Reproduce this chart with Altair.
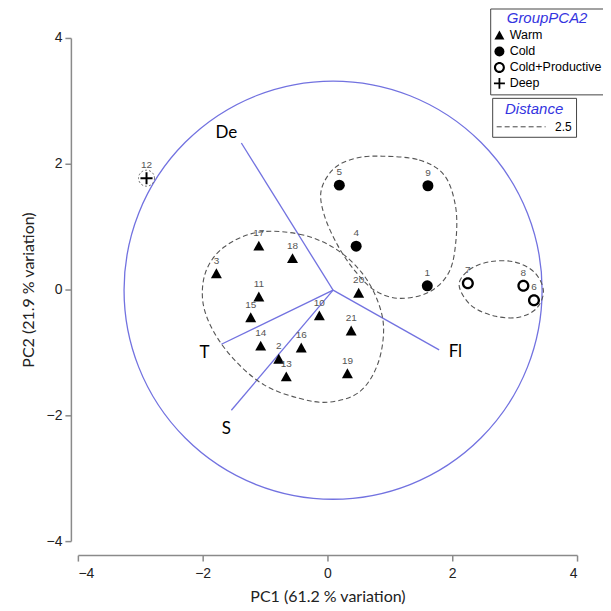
import altair as alt
import pandas as pd

# ---- sample scores (PC1, PC2) ----
samples = ["17", "18", "3", "11", "15", "14", "2", "13", "16", "10", "21", "19", "20",
           "5", "9", "4", "1", "7", "8", "6", "12"]
pc1 = [-1.10, -0.56, -1.78, -1.10, -1.23, -1.07, -0.78, -0.66, -0.42, -0.13, 0.38, 0.32, 0.50,
       0.19, 1.61, 0.46, 1.60, 2.25, 3.14, 3.31, -2.90]
pc2 = [0.69, 0.49, 0.25, -0.12, -0.45, -0.90, -1.11, -1.39, -0.93, -0.42, -0.66, -1.34, -0.06,
       1.66, 1.65, 0.69, 0.06, 0.10, 0.06, -0.17, 1.77]
groups = ["Warm"] * 13 + ["Cold"] * 4 + ["Cold+Productive"] * 3 + ["Deep"]
group_order = ["Warm", "Cold", "Cold+Productive", "Deep"]

# ---- vectors (variables) ----
vec_names = ["De", "T", "S", "Fl"]
vec_x0 = [0.09, 0.09, 0.09, 0.09]
vec_y0 = [-0.01, -0.01, -0.01, -0.01]
vec_x1 = [-1.38, -1.70, -1.54, 1.79]
vec_y1 = [2.33, -0.87, -1.92, -0.96]
vec_lab_x = [-1.62, -1.97, -1.62, 2.05]
vec_lab_y = [2.49, -1.01, -2.21, -0.99]

# ---- correlation circle ----
circle_cx = [0.09]
circle_cy = [-0.01]
circle_r = 3.35

# ---- cluster outlines at distance 2.5 (traced) ----
warm_x = [-1.12, -0.45, 0.11, 0.54, 0.80, 0.90, 0.80, 0.51, 0.03, -0.45, -1.01, -1.49, -1.84, -2.00, -1.94, -1.65]
warm_y = [0.91, 0.88, 0.66, 0.28, -0.17, -0.64, -1.20, -1.63, -1.79, -1.73, -1.52, -1.12, -0.64, -0.17, 0.31, 0.68]
cold_x = [0.88, 1.47, 1.87, 2.05, 2.06, 1.95, 1.63, 1.15, 0.75, 0.43, 0.16, -0.05, -0.10, 0.11, 0.46]
cold_y = [2.12, 2.06, 1.82, 1.34, 0.79, 0.28, -0.04, -0.14, -0.01, 0.31, 0.71, 1.18, 1.58, 1.93, 2.09]
prod_x = [2.11, 2.27, 2.59, 2.99, 3.31, 3.46, 3.36, 3.07, 2.67, 2.30]
prod_y = [0.07, 0.31, 0.44, 0.44, 0.28, -0.01, -0.29, -0.44, -0.42, -0.25]

W, H = 500, 504
BLUE = "#7272e0"

pts = pd.DataFrame({"id": samples, "pc1": pc1, "pc2": pc2, "group": groups})
vec = pd.DataFrame({"name": vec_names, "x0": vec_x0, "y0": vec_y0, "x1": vec_x1, "y1": vec_y1,
                    "lx": vec_lab_x, "ly": vec_lab_y})
circ = pd.DataFrame({"cx": circle_cx, "cy": circle_cy})

rows = []
for name, xs_, ys_ in [("warm", warm_x, warm_y), ("cold", cold_x, cold_y), ("prod", prod_x, prod_y)]:
    for i, (a, b) in enumerate(zip(xs_, ys_)):
        rows.append({"cluster": name, "i": i, "x": a, "y": b, "dist": "2.5"})
outl = pd.DataFrame(rows)

xs = alt.Scale(domain=[-4, 4], nice=False, zero=False)
ys = alt.Scale(domain=[-4, 4], nice=False, zero=False)
xax = alt.Axis(title="PC1 (61.2 % variation)", values=[-4, -2, 0, 2, 4], format="d", grid=False,
               offset=14, labelPadding=5, titlePadding=8)
yax = alt.Axis(title="PC2 (21.9 % variation)", values=[-4, -2, 0, 2, 4], format="d", grid=False,
               offset=7, labelPadding=3, titlePadding=9)

base = alt.Chart(pts)

px_per_unit = W / 8
circle_size = (2 * circle_r * px_per_unit) ** 2
circle_layer = alt.Chart(circ).mark_point(
    shape="circle", filled=False, color=BLUE, strokeWidth=1.3, size=circle_size, opacity=1
).encode(x=alt.X("cx:Q", scale=xs, axis=xax), y=alt.Y("cy:Q", scale=ys, axis=yax))

vec_layer = alt.Chart(vec).mark_rule(color=BLUE, strokeWidth=1.3).encode(
    x=alt.X("x0:Q", scale=xs), y=alt.Y("y0:Q", scale=ys), x2="x1:Q", y2="y1:Q")

vec_text = alt.Chart(vec).mark_text(font="Lato", fontSize=17, color="black").encode(
    x=alt.X("lx:Q", scale=xs), y=alt.Y("ly:Q", scale=ys), text="name:N")

outline_layer = alt.Chart(outl).mark_line(
    interpolate="cardinal-closed", color="#555555", strokeWidth=1.1
).encode(
    x=alt.X("x:Q", scale=xs), y=alt.Y("y:Q", scale=ys),
    detail="cluster:N", order=alt.Order("i:Q"),
    strokeDash=alt.StrokeDash(
        "dist:N", scale=alt.Scale(domain=["2.5"], range=[[5, 3]]),
        legend=alt.Legend(title="Distance", orient="none", legendX=415, legendY=60,
                          symbolType="M-4,0L4,0", symbolSize=150, symbolOffset=18,
                          labelOffset=27, symbolStrokeColor="#444444", symbolStrokeWidth=1)
    ))

deep_ring = base.transform_filter(alt.datum.group == "Deep").mark_point(
    shape="circle", filled=False, color="#666666", strokeDash=[2, 2], strokeWidth=1, size=256, opacity=1
).encode(x=alt.X("pc1:Q", scale=xs), y=alt.Y("pc2:Q", scale=ys))

ring = "M-1.1,0A1.1,1.1,0,1,1,1.1,0A1.1,1.1,0,1,1,-1.1,0ZM-0.68,0A0.68,0.68,0,1,0,0.68,0A0.68,0.68,0,1,0,-0.68,0Z"
plus = "M-1.1,-0.18L1.1,-0.18L1.1,0.18L-1.1,0.18ZM-0.18,-1.1L0.18,-1.1L0.18,1.1L-0.18,1.1Z"
tri = "M0,-1L1,0.8L-1,0.8Z"

point_layer = base.mark_point(filled=True, color="black", opacity=1, size=121).encode(
    x=alt.X("pc1:Q", scale=xs), y=alt.Y("pc2:Q", scale=ys),
    shape=alt.Shape("group:N",
                    scale=alt.Scale(domain=group_order, range=[tri, "circle", ring, plus]),
                    legend=alt.Legend(title="GroupPCA2", orient="none", legendX=413, legendY=-29.5,
                                      symbolSize=100, rowPadding=0, clipHeight=16, padding=3,
                                      titlePadding=1, labelFontSize=12.5)))

label_layer = base.mark_text(dy=-13, fontSize=10, color="#555555", font="Liberation Sans").encode(
    x=alt.X("pc1:Q", scale=xs), y=alt.Y("pc2:Q", scale=ys), text="id:N")

chart = alt.layer(
    circle_layer, vec_layer, outline_layer, deep_ring, point_layer, label_layer, vec_text
).properties(
    width=W, height=H,
    autosize=alt.AutoSizeParams(type="none"),
    padding={"left": 70, "top": 29.5, "right": 26, "bottom": 68},
).configure_view(stroke=None).configure_axis(
    domainColor="#8a8a8a", domainWidth=1.5, tickColor="#8a8a8a", tickWidth=1.5, tickSize=6,
    labelFont="Liberation Sans", labelFontSize=14, labelColor="#222222",
    titleFont="Lato", titleFontSize=16, titleFontWeight="normal", titleColor="#222222",
).configure_legend(
    padding=4, strokeColor="#444444", fillColor="white", cornerRadius=0,
    titleFont="Liberation Sans", titleFontSize=15, titleFontStyle="italic", titleFontWeight="normal",
    titleColor="#3434e0", titleAnchor="middle", titlePadding=3,
    labelFont="Liberation Sans", labelFontSize=12, labelColor="black", labelOffset=4,
)

chart.save("out.html", embed_options={"renderer": "svg", "actions": False})
